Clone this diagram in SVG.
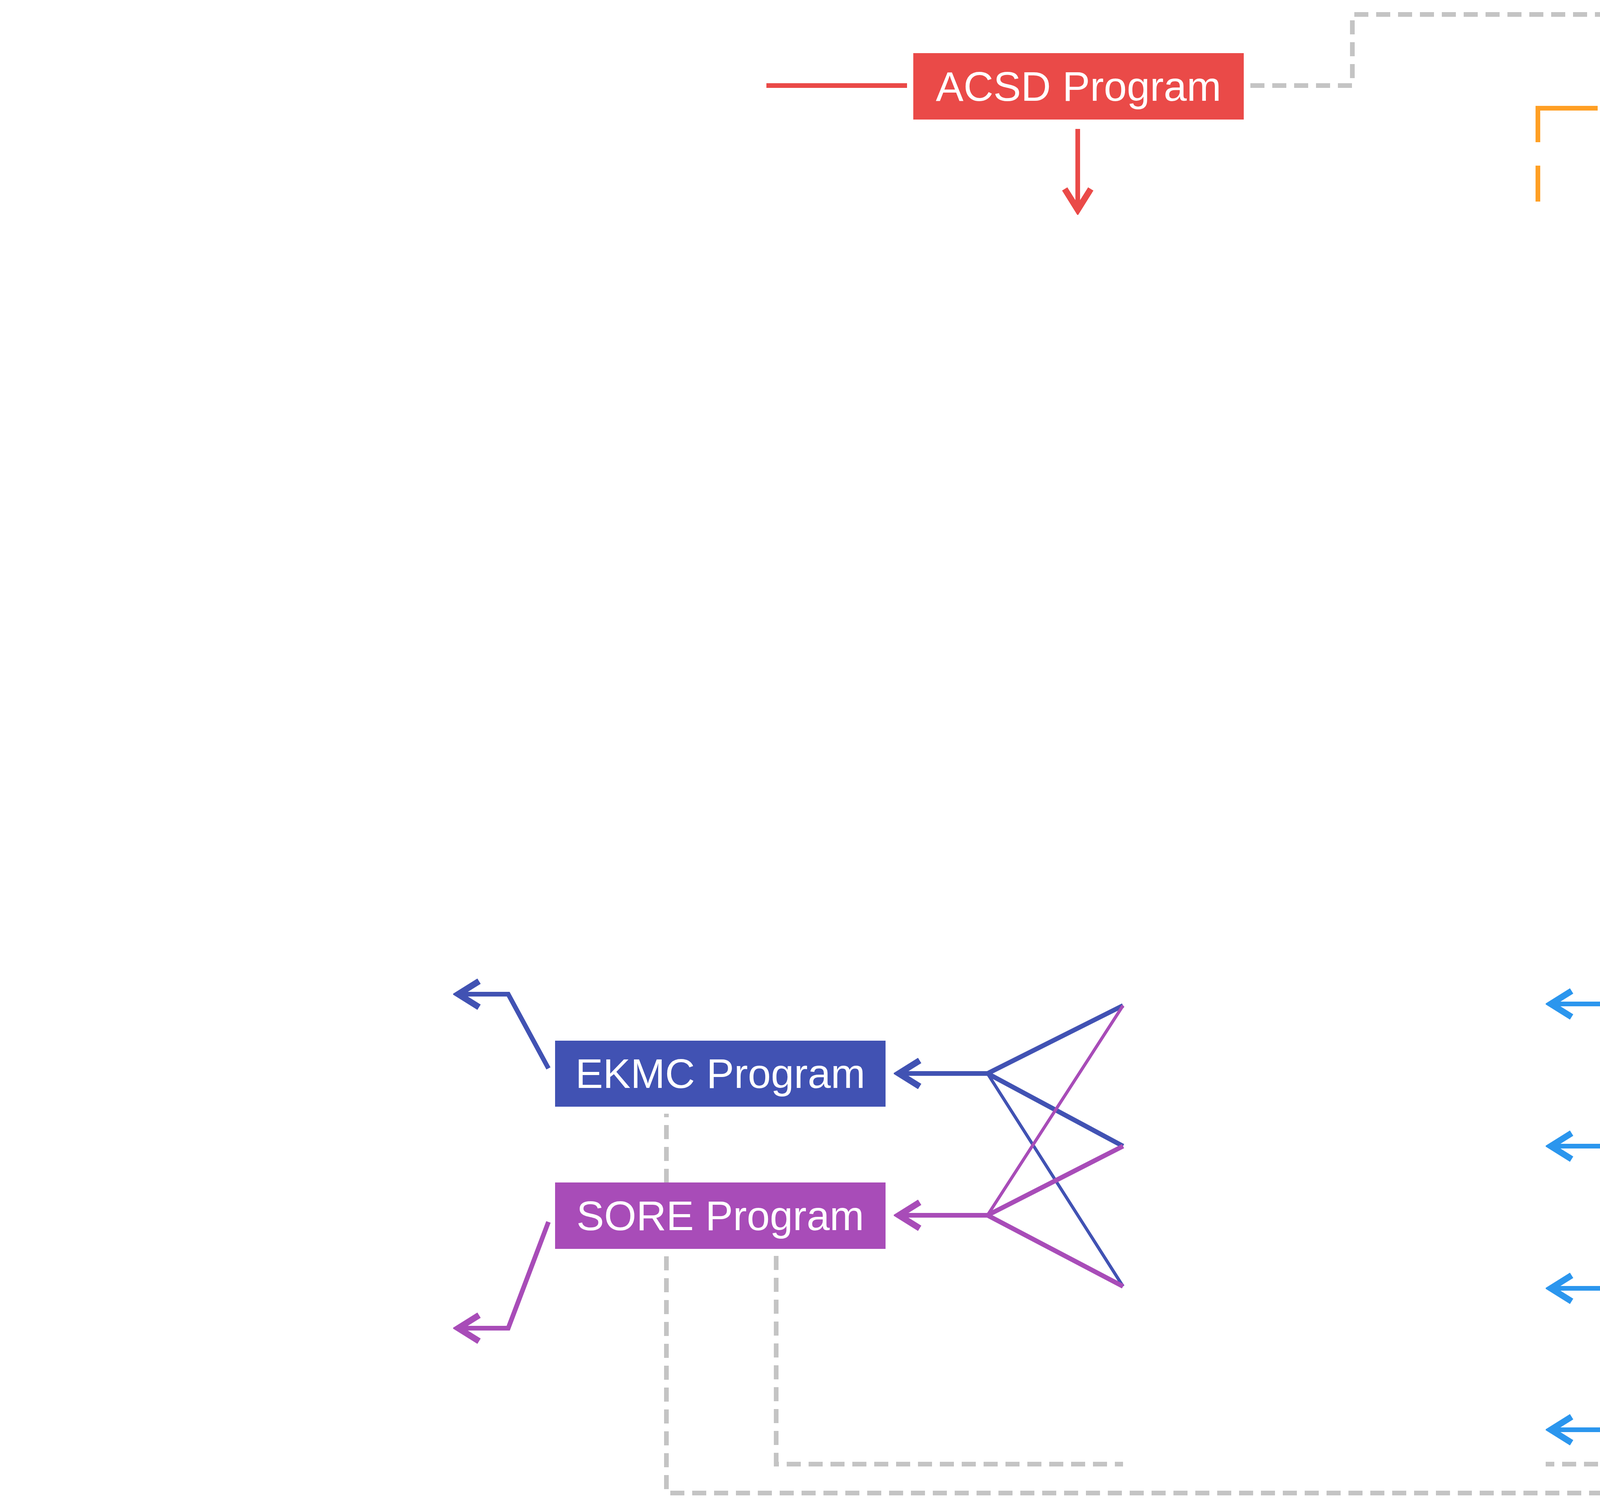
<svg xmlns="http://www.w3.org/2000/svg" width="6444" height="3868" viewBox="0 0 6444 3868">
<style>
text{font-family:"Liberation Sans",Arial,sans-serif;font-size:106px;text-anchor:middle;dominant-baseline:central}
.w{fill:#fff}.k{fill:#000}
.e{fill:none;stroke-width:12;stroke-linejoin:miter}
.d{fill:none;stroke:#c4c4c4;stroke-width:12;stroke-dasharray:36 20}
.thin{stroke-width:8}
</style>
<defs>
<marker id="aR" markerUnits="userSpaceOnUse" markerWidth="80" markerHeight="80" refX="50" refY="30" orient="auto" viewBox="0 0 60 60"><path d="M10,5 L50,30 L10,55" fill="none" stroke="#ea4a48" stroke-width="12"/></marker>
<marker id="aO" markerUnits="userSpaceOnUse" markerWidth="80" markerHeight="80" refX="50" refY="30" orient="auto" viewBox="0 0 60 60"><path d="M10,5 L50,30 L10,55" fill="none" stroke="#ff9f24" stroke-width="12"/></marker>
<marker id="aY" markerUnits="userSpaceOnUse" markerWidth="80" markerHeight="80" refX="50" refY="30" orient="auto" viewBox="0 0 60 60"><path d="M10,5 L50,30 L10,55" fill="none" stroke="#ffb711" stroke-width="12"/></marker>
<marker id="aG" markerUnits="userSpaceOnUse" markerWidth="80" markerHeight="80" refX="50" refY="30" orient="auto" viewBox="0 0 60 60"><path d="M10,5 L50,30 L10,55" fill="none" stroke="#4fad55" stroke-width="12"/></marker>
<marker id="aI" markerUnits="userSpaceOnUse" markerWidth="80" markerHeight="80" refX="50" refY="30" orient="auto" viewBox="0 0 60 60"><path d="M10,5 L50,30 L10,55" fill="none" stroke="#4152b3" stroke-width="12"/></marker>
<marker id="aP" markerUnits="userSpaceOnUse" markerWidth="80" markerHeight="80" refX="50" refY="30" orient="auto" viewBox="0 0 60 60"><path d="M10,5 L50,30 L10,55" fill="none" stroke="#a84cb8" stroke-width="12"/></marker>
<marker id="aB" markerUnits="userSpaceOnUse" markerWidth="80" markerHeight="80" refX="50" refY="30" orient="auto" viewBox="0 0 60 60"><path d="M10,5 L50,30 L10,55" fill="none" stroke="#2b96ee" stroke-width="12"/></marker>
</defs>
<g id="connectors">
<path class="d" d="M3201,219 H3462 V37 H6366 V3292"/>
<path class="d" d="M4598,182 V112 H6217 V3292"/>
<path class="d" d="M6069,1157 V3292"/>
<path class="d" d="M6069,3491 V3582 H4656 V3822 H1706 V2851"/>
<path class="d" d="M5027,1839 H5106 V1988 H5911 V3292"/>
<path class="d" d="M4746,3215 V3384 H5395"/>
<path class="d" d="M5738,3491 V3529 H4437 V3748 H3957"/>
<path class="d" d="M1987,3215 V3748 H2875"/>
<path class="d" d="M4866,3731 H5143"/>
<path class="e" stroke="#ea4a48" d="M1962,219 H2322"/>
<path class="e" stroke="#ea4a48" d="M2759,330 V537" marker-end="url(#aR)"/>
<path class="e" stroke="#ff9f24" stroke-dasharray="240 60" d="M4090,277 H3937 V516"/>
<path class="e" stroke="#ff9f24" d="M5110,277 H5255 V488" marker-end="url(#aO)"/>
<path class="e" stroke="#ffb711" stroke-dasharray="240 60" d="M5738,661 H5977 V954"/>
<path class="e" stroke="#ffb711" d="M5977,1165 V1463 H5841" marker-end="url(#aY)"/>
<path class="e" stroke="#4fad55" stroke-dasharray="240 60" d="M4693,1463 H4585 V1735"/>
<path class="e" stroke="#4fad55" d="M4585,1942 V2285 H4730" marker-end="url(#aG)"/>
<path class="e" stroke="#4152b3" d="M1404,2735 L1301,2545 H1173" marker-end="url(#aI)"/>
<path class="e" stroke="#4152b3" d="M2528,2748 H2301" marker-end="url(#aI)"/>
<path class="e" stroke="#4152b3" d="M2528,2748 L2875,2574 M2528,2748 L2875,2934"/>
<path class="e thin" stroke="#4152b3" d="M2528,2748 L2875,3293"/>
<path class="e" stroke="#a84cb8" d="M1404,3128 L1301,3400 H1173" marker-end="url(#aP)"/>
<path class="e" stroke="#a84cb8" d="M2528,3111 H2301" marker-end="url(#aP)"/>
<path class="e" stroke="#a84cb8" d="M2528,3111 L2875,2934 M2528,3111 L2875,3293"/>
<path class="e thin" stroke="#a84cb8" d="M2528,3111 L2875,2574"/>
<path class="e" stroke="#2b96ee" d="M4368,3002 L4193,2570 H3970" marker-end="url(#aB)"/>
<path class="e" stroke="#2b96ee" d="M4298,3021 L4193,2934 H3970" marker-end="url(#aB)"/>
<path class="e" stroke="#2b96ee" d="M4298,3186 L4193,3298 H3970" marker-end="url(#aB)"/>
<path class="e" stroke="#2b96ee" d="M4368,3207 L4193,3660 H3970" marker-end="url(#aB)"/>
<path class="e" stroke="#2b96ee" d="M5184,3111 H5259 V2962"/>
</g>
<g id="acsd"><rect x="2338" y="136" width="846" height="170" fill="#ea4a48"/><text class="w" x="2761" y="221">ACSD Program</text></g>
<g id="recrystal"><rect x="4101" y="190" width="991" height="169" fill="#ff9f24"/><text class="k" x="4596" y="274">ReCrystal Program</text></g>
<g id="rsgc"><rect x="5551" y="971" width="846" height="169" fill="#ffb711"/><text class="k" x="5974" y="1055">RSGC Program</text></g>
<g id="rejig"><rect x="4163" y="1751" width="847" height="174" fill="#4fad55"/><text class="w" x="4586" y="1838">ReJig Program</text></g>
<g id="ekmc"><rect x="1421" y="2664" width="846" height="169" fill="#4152b3"/><text class="w" x="1844" y="2748">EKMC Program</text></g>
<g id="sore"><rect x="1421" y="3027" width="846" height="170" fill="#a84cb8"/><text class="w" x="1844" y="3112">SORE Program</text></g>
<g id="eccp"><rect x="4320" y="3027" width="847" height="170" fill="#2b96ee"/><text class="w" x="4743" y="3112">ECCP Program</text></g>
<g id="sumelf"><rect x="5412" y="3298" width="1000" height="180" fill="#6b6b6b" stroke="#000" stroke-width="12" rx="6"/><text class="w" x="5912" y="3388">SUMELF Engine</text></g>
</svg>
